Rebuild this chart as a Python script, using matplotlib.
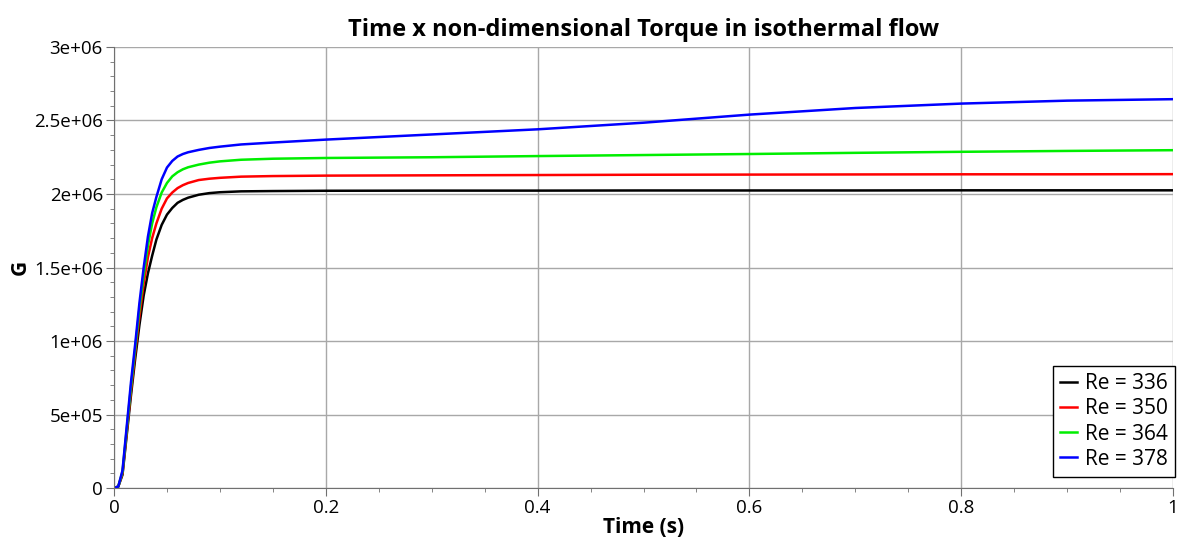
import matplotlib
matplotlib.use("Agg")
import matplotlib.pyplot as plt
from matplotlib.ticker import MultipleLocator

plt.rcParams['font.family'] = ['Open Sans', 'DejaVu Sans']

time = [0, 0.004, 0.008, 0.012, 0.016, 0.02, 0.024, 0.028, 0.032, 0.036,
        0.04, 0.045, 0.05, 0.055, 0.06, 0.065, 0.07, 0.08, 0.09, 0.1,
        0.12, 0.15, 0.2, 0.3, 0.4, 0.5, 0.6, 0.7, 0.8, 0.9, 1.0]

# values in units of 1e6
g_336 = [0, 0.01, 0.09, 0.36, 0.63, 0.88, 1.11, 1.31, 1.46, 1.58,
         1.69, 1.79, 1.86, 1.905, 1.94, 1.96, 1.975, 1.995, 2.006, 2.012,
         2.018, 2.02, 2.022, 2.023, 2.023, 2.024, 2.024, 2.024, 2.025, 2.025, 2.025]
g_350 = [0, 0.01, 0.10, 0.38, 0.66, 0.92, 1.17, 1.39, 1.57, 1.70,
         1.80, 1.90, 1.97, 2.01, 2.04, 2.06, 2.075, 2.095, 2.104, 2.11,
         2.118, 2.122, 2.125, 2.127, 2.129, 2.131, 2.132, 2.133, 2.134, 2.134, 2.135]
g_364 = [0, 0.01, 0.11, 0.40, 0.69, 0.95, 1.22, 1.45, 1.65, 1.80,
         1.91, 2.01, 2.075, 2.12, 2.148, 2.168, 2.182, 2.2, 2.213, 2.222,
         2.233, 2.24, 2.245, 2.25, 2.258, 2.265, 2.272, 2.28, 2.287, 2.293, 2.298]
g_378 = [0, 0.01, 0.12, 0.42, 0.72, 0.98, 1.26, 1.50, 1.71, 1.87,
         1.98, 2.10, 2.18, 2.225, 2.255, 2.272, 2.284, 2.30, 2.313, 2.322,
         2.337, 2.35, 2.37, 2.405, 2.44, 2.485, 2.54, 2.585, 2.615, 2.635, 2.645]

series = [
    ('Re = 336', g_336, '#000000'),
    ('Re = 350', g_350, '#ff0000'),
    ('Re = 364', g_364, '#00ee00'),
    ('Re = 378', g_378, '#0000ff'),
]

fig = plt.figure(figsize=(11.78, 5.37), dpi=100)
ax = fig.add_axes([0.0968, 0.0912, 0.8990, 0.8213])

for label, vals, color in series:
    ax.plot(time, [v * 1e6 for v in vals], color=color, lw=1.8, label=label)

ax.set_xlim(0, 1)
ax.set_ylim(0, 3e6)
ax.set_xticks([0, 0.2, 0.4, 0.6, 0.8, 1.0])
ax.set_xticklabels(['0', '0.2', '0.4', '0.6', '0.8', '1'])
ax.set_yticks([0, 5e5, 1e6, 1.5e6, 2e6, 2.5e6, 3e6])
ax.set_yticklabels(['0', '5e+05', '1e+06', '1.5e+06', '2e+06', '2.5e+06', '3e+06'])
ax.xaxis.set_minor_locator(MultipleLocator(0.05))
ax.yaxis.set_minor_locator(MultipleLocator(1e5))

ax.grid(True, which='major', color='#a8a8a8', lw=1)
ax.set_axisbelow(True)
for s in ['top', 'right']:
    ax.spines[s].set_visible(False)
for s in ['left', 'bottom']:
    ax.spines[s].set_color('#707070')
ax.tick_params(which='major', length=6, color='#707070', labelsize=13.5, pad=2)
ax.tick_params(which='minor', length=3, color='#707070')

ax.set_title('Time x non-dimensional Torque in isothermal flow',
             fontsize=17, fontweight='bold', pad=8)
ax.set_xlabel('Time (s)', fontsize=15, fontweight='bold', labelpad=0)
ax.set_ylabel('G', fontsize=15, fontweight='bold', labelpad=2)

leg = ax.legend(loc='lower right', fontsize=15, handlelength=0.8,
                handletextpad=0.4, borderpad=0.35, labelspacing=0.2,
                fancybox=False, framealpha=1, borderaxespad=0,
                bbox_to_anchor=(1.002, 0.025))
leg.get_frame().set_edgecolor('#000000')
leg.get_frame().set_linewidth(1)

fig.savefig('out.png', dpi=100)
